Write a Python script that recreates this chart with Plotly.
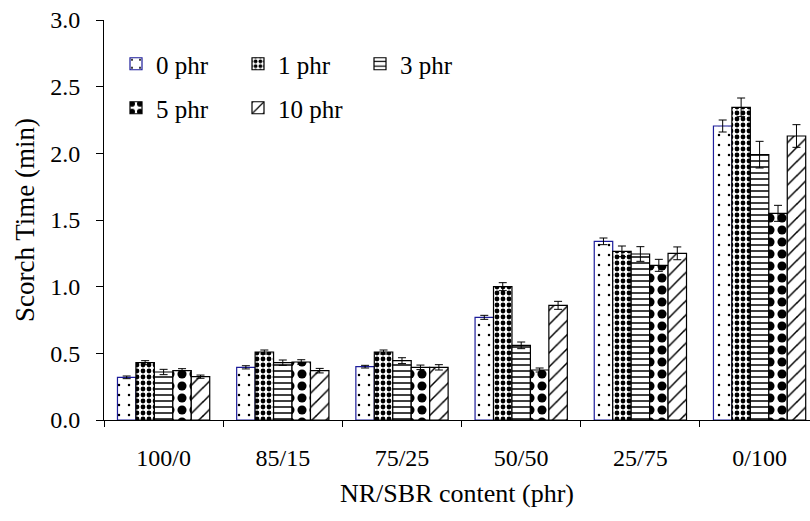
import plotly.graph_objects as go

# NR/SBR blend ratios and scorch time (min) for each filler loading
categories = ["100/0", "85/15", "75/25", "50/50", "25/75", "0/100"]
series_names = ["0 phr", "1 phr", "3 phr", "5 phr", "10 phr"]

scorch_0 = [0.32, 0.395, 0.40, 0.77, 1.34, 2.205]
scorch_1 = [0.43, 0.51, 0.51, 1.00, 1.265, 2.345]
scorch_3 = [0.36, 0.43, 0.445, 0.56, 1.245, 1.99]
scorch_5 = [0.37, 0.435, 0.395, 0.375, 1.16, 1.55]
scorch_10 = [0.325, 0.37, 0.395, 0.86, 1.25, 2.13]

err_0 = [0.01, 0.012, 0.01, 0.015, 0.025, 0.045]
err_1 = [0.015, 0.015, 0.015, 0.03, 0.04, 0.07]
err_3 = [0.02, 0.02, 0.022, 0.025, 0.055, 0.10]
err_5 = [0.015, 0.017, 0.017, 0.015, 0.045, 0.06]
err_10 = [0.012, 0.017, 0.02, 0.03, 0.048, 0.085]

values = [scorch_0, scorch_1, scorch_3, scorch_5, scorch_10]
errors = [err_0, err_1, err_3, err_5, err_10]

# fill pattern and outline per series
patterns = [
    dict(shape=".", size=10, solidity=0.05),
    dict(shape=".", size=6, solidity=0.5),
    dict(shape="-", size=6, solidity=0.25),
    dict(shape=".", size=12, solidity=0.45),
    dict(shape="/", size=10, solidity=0.15),
]
outline = ["#1c1c9a", "black", "black", "black", "black"]
legend_ids = ["legend", "legend", "legend", "legend2", "legend2"]

FONT = "Liberation Serif, Times New Roman, serif"
L_MARGIN, PLOT_W = 104, 706
Y_RANGE = [0, 3]

fig = go.Figure()
for name, v, e, pat, oc, lg in zip(series_names, values, errors, patterns, outline, legend_ids):
    fig.add_trace(go.Bar(
        x=categories, y=v, name=name,
        marker=dict(
            color="white",
            line=dict(color=oc, width=1.2),
            pattern=dict(fgcolor="black", bgcolor="white", fillmode="replace", **pat),
        ),
        error_y=dict(type="data", array=e, visible=True, color="black", thickness=1, width=4),
        legend=lg,
    ))

# empty helper trace so the overlay axis that carries the short tick marks is drawn
fig.add_trace(go.Scatter(x=[categories[0]], y=[None], yaxis="y2",
                         showlegend=False, hoverinfo="skip", mode="markers"))

legend_common = dict(
    orientation="h", bgcolor="rgba(0,0,0,0)", borderwidth=0,
    font=dict(family=FONT, size=25, color="black"),
    entrywidth=77, entrywidthmode="pixels",
    itemwidth=30, xanchor="left", yanchor="middle", tracegroupgap=0,
)

fig.update_layout(
    width=810, height=521,
    margin=dict(l=L_MARGIN, r=0, t=20, b=101),
    paper_bgcolor="white", plot_bgcolor="white",
    barmode="group", bargap=0.226, bargroupgap=0,
    font=dict(family=FONT, size=24, color="black"),
    legend=dict(x=0.017, y=0.89, **legend_common),
    legend2=dict(x=0.017, y=0.78, **legend_common),
    xaxis=dict(
        type="category", range=[-0.5, 5.423],
        showline=True, linecolor="black", linewidth=1,
        ticks="outside", tickson="boundaries", ticklen=6, tickcolor="black",
        showgrid=False, zeroline=False,
        tickfont=dict(family=FONT, size=24), ticklabelstandoff=16,
        title=dict(text="NR/SBR content (phr)", font=dict(family=FONT, size=26), standoff=14),
    ),
    # labelled axis: long transparent ticks push the labels away from the axis line
    yaxis=dict(
        range=Y_RANGE, dtick=0.5, tickformat=".1f",
        showline=True, linecolor="black", linewidth=1,
        ticks="outside", ticklen=18, tickcolor="rgba(0,0,0,0)",
        showgrid=False, zeroline=False,
        tickfont=dict(family=FONT, size=24),
    ),
    # overlay axis drawing the visible short tick marks
    yaxis2=dict(
        range=Y_RANGE, dtick=0.5, overlaying="y", side="left", anchor="x",
        showline=False, showticklabels=False,
        ticks="outside", ticklen=7, tickcolor="black",
        showgrid=False, zeroline=False,
    ),
    annotations=[dict(
        text="Scorch Time (min)", textangle=-90,
        xref="paper", yref="paper", x=(25 - L_MARGIN) / PLOT_W, y=0.5,
        xanchor="center", yanchor="middle", showarrow=False,
        font=dict(family=FONT, size=27, color="black"),
    )],
)

fig.write_html("out.html")
